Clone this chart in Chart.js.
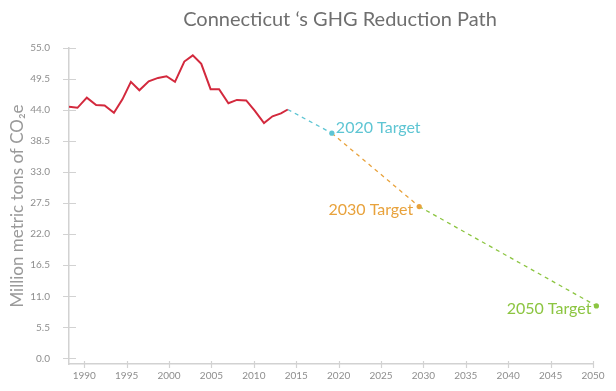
<!DOCTYPE html>
<html>
<head>
<meta charset="utf-8">
<title>Connecticut GHG Reduction Path</title>
<script src="https://cdn.jsdelivr.net/npm/chart.js@4.4.1/dist/chart.umd.min.js"></script>
<style>
    html, body { margin: 0; padding: 0; background: #fff; }
</style>
</head>
<body>
<canvas id="ghgChart" width="616" height="391"></canvas>
<script>
// Historical emissions (x positions)
const histYears = [1988.2, 1989.2, 1990.3, 1991.4, 1992.4, 1993.5, 1994.5, 1995.5, 1996.5,
    1997.6, 1998.7, 1999.7, 2000.7, 2001.8, 2002.8, 2003.8, 2004.9, 2005.9, 2007.0,
    2008.0, 2009.1, 2010.1, 2011.2, 2012.2, 2013.2, 2014.0];
const histValues = [44.6, 44.4, 46.2, 44.9, 44.8, 43.5, 45.9, 49.0, 47.5, 49.1, 49.7,
    50.0, 49.0, 52.6, 53.7, 52.2, 47.7, 47.7, 45.2, 45.8, 45.7, 43.9, 41.7, 42.9, 43.4, 44.1];

// Reduction targets
const targetNames = ['2020 Target', '2030 Target', '2050 Target'];
const targetYears = [2019.2, 2029.5, 2050.4];
const targetValues = [39.9, 26.9, 9.3];

// Axis ticks
const xTicks = [1990, 1995, 2000, 2005, 2010, 2015, 2020, 2025, 2030, 2035, 2040, 2045, 2050];
const yTicks = [0, 5.5, 11, 16.5, 22, 27.5, 33, 38.5, 44, 49.5, 55];

const histColor = '#d3293d';
const targetColors = ['#5ec5d3', '#e8a23c', '#8cc541'];
const axisColor = '#d2d2d2';
const tickColor = '#8e8e8e';
const fontFamily = "Lato, 'Open Sans', sans-serif";

// label placement relative to each target dot: [dx, dy, align]
const labelOffsets = [[4, -5, 'left'], [-6, 3.5, 'right'], [-5, 3, 'right']];

function buildDatasets() {
    const datasets = [{
        label: 'Emissions',
        data: histYears.map((yr, i) => ({ x: yr, y: histValues[i] })),
        borderColor: histColor,
        borderWidth: 2,
        pointRadius: 0,
        tension: 0
    }];

    // dashed path: last measured year -> each target in turn
    let prevX = histYears[histYears.length - 1];
    let prevY = histValues[histValues.length - 1];
    targetYears.forEach((yr, i) => {
        datasets.push({
            label: targetNames[i],
            data: [{ x: prevX, y: prevY }, { x: yr, y: targetValues[i] }],
            borderColor: targetColors[i],
            backgroundColor: targetColors[i],
            borderWidth: 1.3,
            borderDash: [4, 4],
            pointRadius: [0, 2.6],
            pointBorderWidth: 0,
            pointBackgroundColor: targetColors[i],
            clip: false
        });
        prevX = yr;
        prevY = targetValues[i];
    });
    return datasets;
}

// Tick marks that cross the axis lines
const crossTicks = {
    id: 'crossTicks',
    afterDraw(chart) {
        const { ctx } = chart;
        const x = chart.scales.x;
        const y = chart.scales.y;
        ctx.save();
        ctx.strokeStyle = axisColor;
        ctx.lineWidth = 1.2;
        ctx.beginPath();
        xTicks.forEach(v => {
            const px = Math.round(x.getPixelForValue(v)) + 0.5;
            ctx.moveTo(px, x.top - 3);
            ctx.lineTo(px, x.top + 4);
        });
        yTicks.forEach(v => {
            const py = Math.round(y.getPixelForValue(v)) + 0.5;
            ctx.moveTo(y.right - 6, py);
            ctx.lineTo(y.right + 7, py);
        });
        ctx.stroke();
        ctx.restore();
    }
};

// Chart title and target labels
const annotations = {
    id: 'annotations',
    afterDraw(chart) {
        const { ctx } = chart;
        const x = chart.scales.x;
        const y = chart.scales.y;
        ctx.save();
        ctx.textBaseline = 'middle';

        ctx.fillStyle = '#6f6f6f';
        ctx.font = '20px ' + fontFamily;
        ctx.textAlign = 'center';
        ctx.fillText('Connecticut \u2018s GHG Reduction Path', 340, 20);

        ctx.font = '16px ' + fontFamily;
        targetNames.forEach((name, i) => {
            const px = x.getPixelForValue(targetYears[i]);
            const py = y.getPixelForValue(targetValues[i]);
            const [dx, dy, align] = labelOffsets[i];
            ctx.fillStyle = targetColors[i];
            ctx.textAlign = align;
            ctx.fillText(name, px + dx, py + dy);
        });
        ctx.restore();
    }
};

const ctx = document.getElementById('ghgChart').getContext('2d');
new Chart(ctx, {
    type: 'line',
    data: { datasets: buildDatasets() },
    options: {
        responsive: false,
        animation: false,
        devicePixelRatio: 1,
        layout: { padding: { top: 48, right: 23, left: 0, bottom: 0 } },
        plugins: {
            legend: { display: false },
            tooltip: { enabled: false }
        },
        scales: {
            x: {
                type: 'linear',
                min: 1988.2,
                max: 2050,
                afterBuildTicks: scale => { scale.ticks = xTicks.map(v => ({ value: v })); },
                afterFit: scale => { scale.height = 27; },
                ticks: {
                    callback: v => String(v),
                    color: tickColor,
                    padding: 6,
                    maxRotation: 0,
                    font: { size: 10, family: fontFamily }
                },
                grid: { display: false, drawTicks: false },
                border: { display: true, color: axisColor, width: 1.5 }
            },
            y: {
                min: -1,
                max: 55,
                afterBuildTicks: scale => { scale.ticks = yTicks.map(v => ({ value: v })); },
                afterFit: scale => { scale.width = 69; },
                ticks: {
                    callback: v => v.toFixed(1),
                    color: tickColor,
                    padding: 19,
                    font: { size: 10, family: fontFamily }
                },
                grid: { display: false, drawTicks: false },
                border: { display: true, color: axisColor, width: 1.5 },
                title: {
                    display: true,
                    text: 'Million metric tons of CO\u2082e',
                    color: '#9a9a9a',
                    padding: { top: 7, bottom: 0 },
                    font: { size: 17, family: fontFamily }
                }
            }
        }
    },
    plugins: [crossTicks, annotations]
});
</script>
</body>
</html>
